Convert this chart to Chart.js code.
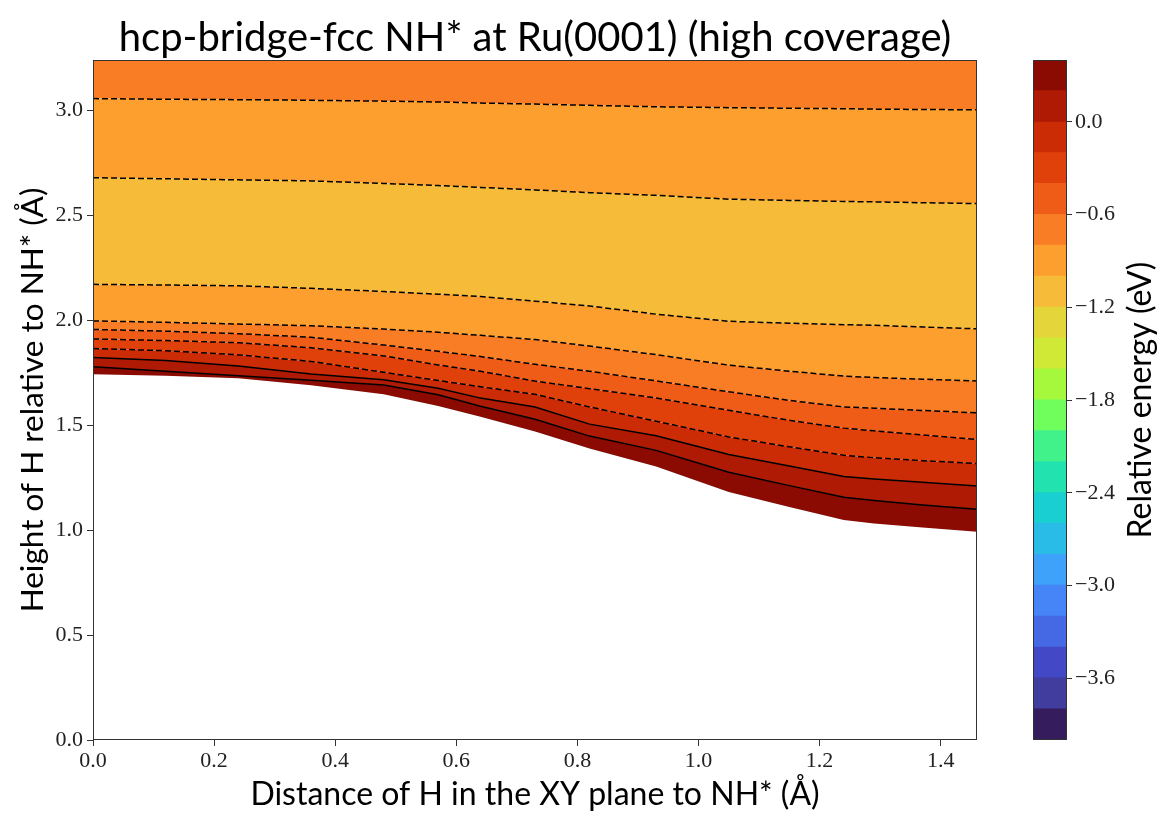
<!DOCTYPE html>
<html>
<head>
<meta charset="utf-8">
<title>hcp-bridge-fcc NH* at Ru(0001)</title>
<script src="https://cdn.jsdelivr.net/npm/chart.js@4.4.1/dist/chart.umd.min.js"></script>
<style>
  body { margin: 0; background: #fff; }
  #wrap { position: relative; width: 1167px; height: 814px; }
  #contourChart { position: absolute; left: 0; top: 0; }
  #colorbar { position: absolute; left: 1020px; top: 0; }
</style>
</head>
<body>
<div id="wrap">
  <canvas id="contourChart" width="1020" height="814"></canvas>
  <canvas id="colorbar" width="147" height="814"></canvas>
</div>
<script>
// Energy levels of the filled contours (eV) and the colour of each band, bottom to top
const levels = [-4.0, -3.8, -3.6, -3.4, -3.2, -3.0, -2.8, -2.6, -2.4, -2.2, -2.0, -1.8,
                -1.6, -1.4, -1.2, -1.0, -0.8, -0.6, -0.4, -0.2, 0.0, 0.2, 0.4];
const bandColors = ['#351c5c', '#403d9e', '#4349c6', '#4568e4', '#4585f7', '#3ea2fb',
                    '#28bce6', '#1acfd2', '#22e3b0', '#41f28a', '#70fe5c', '#a5f83c',
                    '#d0e836', '#e4d53b', '#f6bc39', '#fd9f2e', '#f87d24', '#ee5c18',
                    '#e0410b', '#cc2c05', '#ae1a03', '#8b0a02'];
const cbarTicks = [-3.6, -3.0, -2.4, -1.8, -1.2, -0.6, 0.0];

const xTicks = [0.0, 0.2, 0.4, 0.6, 0.8, 1.0, 1.2, 1.4];
const yTicks = [0.0, 0.5, 1.0, 1.5, 2.0, 2.5, 3.0];

// Distance of H in the XY plane (Å) where the contour heights were read
const distance = [0, 0.12, 0.24, 0.36, 0.48, 0.57, 0.64, 0.73, 0.82, 0.93, 1.05, 1.15, 1.24, 1.29, 1.37, 1.46];

// Lower edge of the sampled region and the height (Å) of each contour line
const edgeBottom      = [1.743, 1.736, 1.724, 1.690, 1.647, 1.592, 1.540, 1.470, 1.389, 1.303, 1.182, 1.110, 1.048, 1.031, 1.012, 0.992];
const contour02       = [1.778, 1.757, 1.736, 1.714, 1.692, 1.645, 1.590, 1.528, 1.448, 1.380, 1.276, 1.212, 1.157, 1.141, 1.120, 1.100];
const contour00       = [1.822, 1.808, 1.782, 1.744, 1.716, 1.676, 1.629, 1.587, 1.505, 1.450, 1.360, 1.305, 1.255, 1.244, 1.228, 1.210];
const contourM02      = [1.865, 1.855, 1.835, 1.804, 1.752, 1.713, 1.683, 1.647, 1.587, 1.519, 1.444, 1.397, 1.357, 1.345, 1.331, 1.317];
const contourM04      = [1.911, 1.903, 1.893, 1.869, 1.830, 1.787, 1.757, 1.710, 1.674, 1.630, 1.571, 1.523, 1.486, 1.473, 1.454, 1.432];
const contourM06      = [1.956, 1.948, 1.936, 1.919, 1.882, 1.852, 1.827, 1.790, 1.757, 1.711, 1.659, 1.618, 1.587, 1.581, 1.570, 1.559];
const contourM08      = [1.997, 1.990, 1.982, 1.974, 1.958, 1.943, 1.928, 1.908, 1.877, 1.836, 1.786, 1.757, 1.734, 1.727, 1.719, 1.711];
const contourM10      = [2.171, 2.168, 2.164, 2.152, 2.137, 2.124, 2.113, 2.091, 2.068, 2.029, 1.995, 1.986, 1.979, 1.976, 1.968, 1.959];
const contourM10Upper = [2.679, 2.674, 2.669, 2.664, 2.652, 2.642, 2.633, 2.621, 2.608, 2.595, 2.577, 2.571, 2.566, 2.564, 2.560, 2.556];
const contourM08Upper = [3.056, 3.053, 3.051, 3.048, 3.044, 3.040, 3.035, 3.030, 3.024, 3.017, 3.013, 3.010, 3.008, 3.006, 3.004, 3.003];

// Each line with its level and the lower level of the band just beneath it
const contours = [
  { level: 0.2,  below: 0.2,  y: contour02 },
  { level: 0.0,  below: 0.0,  y: contour00 },
  { level: -0.2, below: -0.2, y: contourM02 },
  { level: -0.4, below: -0.4, y: contourM04 },
  { level: -0.6, below: -0.6, y: contourM06 },
  { level: -0.8, below: -0.8, y: contourM08 },
  { level: -1.0, below: -1.0, y: contourM10 },
  { level: -1.0, below: -1.2, y: contourM10Upper },
  { level: -0.8, below: -1.0, y: contourM08Upper }
];
const topBandFloor = -0.8;

const sansFont = 'Lato, "DejaVu Sans", sans-serif';
const serifFont = '"Liberation Serif", "DejaVu Serif", serif';
const axisColor = '#333';

function colorFor(floor) {
  return bandColors[Math.round((floor - levels[0]) / 0.2)];
}

function points(ys) {
  return distance.map((x, i) => ({ x: x, y: ys[i] }));
}

function fmt(v) {
  return (v < 0 ? '\u2212' : '') + Math.abs(v).toFixed(1);
}

// box around the plotting area, like matplotlib spines
const axesFrame = {
  id: 'axesFrame',
  afterDatasetsDraw(chart) {
    const { ctx, chartArea: a } = chart;
    ctx.save();
    ctx.strokeStyle = axisColor;
    ctx.lineWidth = 1;
    ctx.strokeRect(a.left + 0.5, a.top + 0.5, a.right - a.left - 1, a.bottom - a.top - 1);
    ctx.restore();
  }
};

// colorbar label reads bottom to top
const colorbarLabel = {
  id: 'colorbarLabel',
  afterDraw(chart) {
    const { ctx, chartArea } = chart;
    ctx.save();
    ctx.translate(121, (chartArea.top + chartArea.bottom) / 2);
    ctx.rotate(-Math.PI / 2);
    ctx.font = '32px ' + sansFont;
    ctx.fillStyle = '#000';
    ctx.textAlign = 'center';
    ctx.textBaseline = 'middle';
    ctx.fillText('Relative energy (eV)', 0, 0);
    ctx.restore();
  }
};

const datasets = [{
  label: 'edge',
  data: points(edgeBottom),
  borderWidth: 0,
  borderColor: 'rgba(0,0,0,0)',
  fill: false
}];
contours.forEach(c => {
  datasets.push({
    label: String(c.level),
    data: points(c.y),
    borderColor: '#000',
    borderWidth: 1.5,
    borderDash: c.level < 0 ? [6, 3] : [],
    backgroundColor: colorFor(c.below),
    fill: '-1'
  });
});
datasets.push({
  label: 'top',
  data: points(contourM08Upper),
  borderWidth: 0,
  borderColor: 'rgba(0,0,0,0)',
  backgroundColor: colorFor(topBandFloor),
  fill: 'end'
});

new Chart(document.getElementById('contourChart').getContext('2d'), {
  type: 'line',
  data: { datasets: datasets },
  options: {
    responsive: false,
    animation: false,
    events: [],
    layout: { padding: { right: 43 } },
    elements: { point: { radius: 0 }, line: { tension: 0 } },
    plugins: {
      legend: { display: false },
      tooltip: { enabled: false },
      filler: { drawTime: 'beforeDatasetsDraw' },
      title: {
        display: true,
        text: 'hcp-bridge-fcc NH* at Ru(0001) (high coverage)',
        fullSize: false,
        color: '#000',
        font: { family: sansFont, size: 40, weight: 'normal', lineHeight: 1 },
        padding: { top: 18, bottom: 2 }
      }
    },
    scales: {
      x: {
        type: 'linear',
        min: 0,
        max: 1.46,
        afterBuildTicks: s => { s.ticks = xTicks.map(v => ({ value: v })); },
        afterFit: s => { s.height = 74; },
        grid: { drawOnChartArea: false, tickLength: 6, tickColor: axisColor },
        border: { display: false },
        ticks: {
          color: '#222',
          font: { family: serifFont, size: 22 },
          padding: 2,
          maxRotation: 0,
          callback: v => fmt(v)
        },
        title: {
          display: true,
          text: 'Distance of H in the XY plane to NH* (\u00c5)',
          color: '#000',
          font: { family: sansFont, size: 32 },
          padding: { top: 0, bottom: 0 }
        }
      },
      y: {
        type: 'linear',
        min: 0,
        max: 3.24,
        afterBuildTicks: s => { s.ticks = yTicks.map(v => ({ value: v })); },
        afterFit: s => { s.width = 93; },
        grid: { drawOnChartArea: false, tickLength: 6, tickColor: axisColor },
        border: { display: false },
        ticks: {
          color: '#222',
          font: { family: serifFont, size: 22 },
          padding: 4,
          callback: v => fmt(v)
        },
        title: {
          display: true,
          text: 'Height of H relative to NH* (\u00c5)',
          color: '#000',
          font: { family: sansFont, size: 31.5 },
          padding: { top: 14, bottom: 0 }
        }
      }
    }
  },
  plugins: [axesFrame]
});

// colorbar: one floating bar per contour band
new Chart(document.getElementById('colorbar').getContext('2d'), {
  type: 'bar',
  data: {
    labels: [''],
    datasets: bandColors.map((c, i) => ({
      data: [[levels[i], levels[i + 1]]],
      backgroundColor: c,
      borderWidth: 0,
      inflateAmount: 0.6
    }))
  },
  options: {
    responsive: false,
    animation: false,
    events: [],
    layout: { padding: { left: 13, top: 60, bottom: 74 } },
    datasets: { bar: { grouped: false, categoryPercentage: 1, barPercentage: 1 } },
    plugins: { legend: { display: false }, tooltip: { enabled: false } },
    scales: {
      x: { display: false },
      y: {
        position: 'right',
        min: -4.0,
        max: 0.4,
        afterBuildTicks: s => { s.ticks = cbarTicks.map(v => ({ value: v })); },
        afterFit: s => { s.width = 100; },
        grid: { drawOnChartArea: false, tickLength: 5, tickColor: axisColor },
        border: { display: false },
        ticks: {
          color: '#222',
          font: { family: serifFont, size: 22 },
          padding: 3,
          callback: v => fmt(v)
        }
      }
    }
  },
  plugins: [axesFrame, colorbarLabel]
});
</script>
</body>
</html>
